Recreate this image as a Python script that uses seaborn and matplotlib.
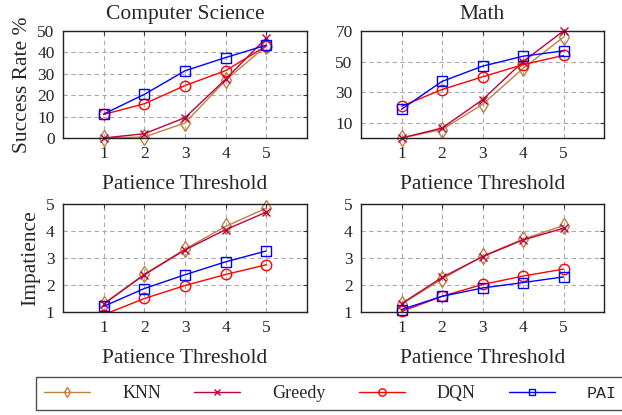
import numpy as np
import pandas as pd
import matplotlib
matplotlib.use("Agg")
import matplotlib.pyplot as plt
import seaborn as sns

# Données
seuils = [1, 2, 3, 4, 5]
methodes = ["KNN", "Greedy", "DQN", "PAI"]

succes_info = {
    "KNN": [0, 0.5, 7, 27, 43],
    "Greedy": [0, 2, 9.5, 27.5, 46.8],
    "DQN": [11, 16, 24.5, 31.5, 43],
    "PAI": [11.2, 20.4, 31.4, 37.6, 43.4],
}
succes_math = {
    "KNN": [0, 5.5, 22, 45.5, 66],
    "Greedy": [0, 6.5, 25, 50, 70],
    "DQN": [20.8, 31.7, 40, 48, 54],
    "PAI": [18.8, 37, 47, 53.5, 57],
}
impatience_info = {
    "KNN": [1.31, 2.4, 3.33, 4.17, 4.85],
    "Greedy": [1.29, 2.38, 3.3, 4.05, 4.7],
    "DQN": [0.9, 1.5, 1.98, 2.39, 2.75],
    "PAI": [1.21, 1.87, 2.38, 2.86, 3.26],
}
impatience_math = {
    "KNN": [1.29, 2.22, 3.07, 3.7, 4.2],
    "Greedy": [1.31, 2.28, 3.05, 3.67, 4.1],
    "DQN": [1.02, 1.58, 2.02, 2.33, 2.59],
    "PAI": [1.09, 1.58, 1.89, 2.09, 2.3],
}

couleurs = {"KNN": "#bf8040", "Greedy": "#bf0040", "DQN": "#ff0000", "PAI": "#0000ff"}
marqueurs = {"KNN": "d", "Greedy": "x", "DQN": "o", "PAI": "s"}
tailles = {"KNN": 8, "Greedy": 5.5, "DQN": 7.5, "PAI": 7}


def to_df(d):
    rows = []
    for m in methodes:
        for s, v in zip(seuils, d[m]):
            rows.append([m, s, v])
    return pd.DataFrame(rows, columns=["Methode", "Seuil", "Valeur"])


sns.set_style("white")
plt.rcParams["font.family"] = ["Liberation Serif", "DejaVu Serif"]

fig = plt.figure(figsize=(6.22, 4.15), dpi=100)
positions = [
    [0.1013, 0.6675, 0.3923, 0.2578],
    [0.5804, 0.6675, 0.3907, 0.2578],
    [0.1013, 0.2482, 0.3923, 0.2602],
    [0.5804, 0.2482, 0.3907, 0.2602],
]
jeux = [succes_info, succes_math, impatience_info, impatience_math]
titres = ["Computer Science", "Math", None, None]
ylims = [(0, 50), (0, 70), (1, 5), (1, 5)]
yticks = [range(0, 51, 10), [10, 30, 50, 70], range(1, 6), range(1, 6)]
ylabels = ["Success Rate %", None, "Impatience", None]

axes = []
for i in range(4):
    ax = fig.add_axes(positions[i])
    df = to_df(jeux[i])
    for m in methodes:
        sous = df[df["Methode"] == m]
        # comme pgfplots : les points hors des limites sont coupés
        hors = (sous["Valeur"] < ylims[i][0]).any() or (sous["Valeur"] > ylims[i][1]).any()
        sns.lineplot(data=sous, x="Seuil", y="Valeur", color=couleurs[m],
                     marker=marqueurs[m], ax=ax, linewidth=1.0,
                     markersize=tailles[m], markerfacecolor="none",
                     markeredgecolor=couleurs[m], markeredgewidth=1.0,
                     clip_on=bool(hors), label=m, legend=False)
    ax.set_xlim(0, 6)
    ax.set_ylim(*ylims[i])
    ax.set_xticks(seuils)
    ax.set_yticks(list(yticks[i]))
    ax.tick_params(direction="in", length=3, width=0.8, top=True, right=True,
                   labelsize=12.5, pad=6, color="#333333")
    ax.grid(True, linestyle=(0, (4, 3)), color="#aaaaaa", linewidth=0.8)
    for sp in ax.spines.values():
        sp.set_color("#222222")
        sp.set_linewidth(1.0)
    ax.set_xlabel("Patience Threshold", fontsize=15.5, labelpad=9)
    ax.set_ylabel(ylabels[i] if ylabels[i] else "", fontsize=15.5, labelpad=4)
    if titres[i]:
        ax.set_title(titres[i], fontsize=15.5, pad=8.5)
    axes.append(ax)

handles = axes[0].lines[:4]
leg = fig.legend(handles, methodes, loc="center left", ncol=4,
                 bbox_to_anchor=(36 / 622, 0.0518), borderaxespad=0,
                 fontsize=13, markerscale=0.7,
                 handlelength=2.55, handletextpad=1.78, columnspacing=1.83,
                 frameon=True, fancybox=False, edgecolor="#222222",
                 borderpad=0.45)
leg.get_frame().set_linewidth(1.0)
leg.get_texts()[3].set_family(["Liberation Mono", "DejaVu Sans Mono"])
leg.get_texts()[3].set_fontsize(12)

fig.savefig("out.png", dpi=100)
